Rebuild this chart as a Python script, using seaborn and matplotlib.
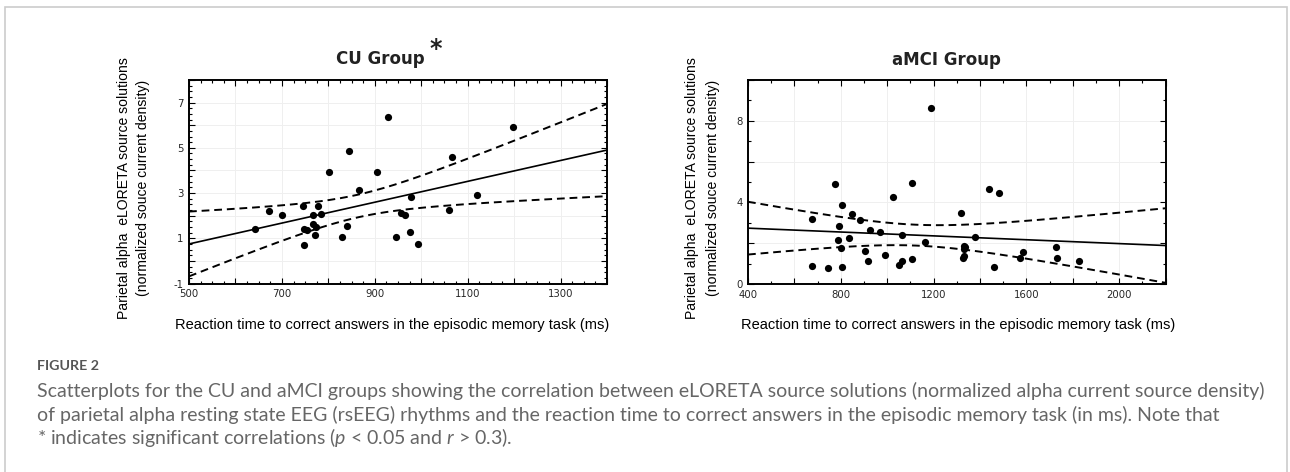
import numpy as np
import matplotlib
matplotlib.use("Agg")
import matplotlib.pyplot as plt
import seaborn as sns
from matplotlib.ticker import MultipleLocator, FuncFormatter
from matplotlib.patches import Rectangle

# ---------------- data ----------------
cu_rt = [641.8, 672, 700, 744.6, 747.4, 753, 747.4, 767.5, 777, 767.5,
         773, 770.4, 783.4, 800.6, 843.7, 839.4, 828.6, 866.6, 905.4, 929,
         946.4, 955.8, 965.8, 978, 975.9, 993, 1060, 1065.7, 1121, 1198.6]
cu_density = [1.43, 2.20, 2.05, 2.43, 1.43, 1.36, 0.71, 2.05, 2.42, 1.65,
              1.50, 1.14, 2.08, 3.91, 4.84, 1.54, 1.04, 3.12, 3.94, 6.35,
              1.04, 2.12, 2.02, 2.82, 1.28, 0.74, 2.23, 4.59, 2.92, 5.90]

amci_rt = [676, 676, 745, 775, 791, 788, 805, 800, 806, 835,
           849, 883, 904, 917, 925, 970, 990, 1023, 1050, 1066,
           1066, 1105, 1105, 1165, 1190, 1319, 1325, 1330, 1332, 1331,
           1334, 1379, 1437, 1461, 1483, 1573, 1586, 1727, 1731, 1825]
amci_density = [3.19, 0.87, 0.80, 4.90, 2.85, 2.16, 3.89, 1.76, 0.83, 2.24,
                3.42, 3.12, 1.60, 1.11, 2.65, 2.53, 1.40, 4.25, 0.91, 1.15,
                2.41, 4.94, 1.24, 2.04, 8.64, 3.50, 1.29, 1.37, 1.88, 1.70,
                1.83, 2.32, 4.66, 0.83, 4.45, 1.27, 1.55, 1.80, 1.27, 1.12]

panel_titles = ["CU Group", "aMCI Group"]
x_label = "Reaction time to correct answers in the episodic memory task (ms)"
y_label_1 = "Parietal alpha  eLORETA source solutions"
y_label_2 = "(normalized souce current density)"
caption_head = "FIGURE 2"
caption_lines = [
    "Scatterplots for the CU and aMCI groups showing the correlation between eLORETA source solutions (normalized alpha current source density)",
    "of parietal alpha resting state EEG (rsEEG) rhythms and the reaction time to correct answers in the episodic memory task (in ms). Note that",
    "* indicates significant correlations ($p$ < 0.05 and $r$ > 0.3).",
]

# ---------------- style ----------------
W, H = 1290, 472
sns.set_style("ticks")
plt.rcParams["font.family"] = ["Liberation Sans", "DejaVu Sans"]
plt.rcParams["mathtext.fontset"] = "custom"
plt.rcParams["mathtext.rm"] = "Lato"
plt.rcParams["mathtext.it"] = "Lato:italic"

fig = plt.figure(figsize=(W / 100, H / 100), dpi=100)
fig.patch.set_facecolor("white")


def px_rect(x0, y0, x1, y1):
    return [x0 / W, 1 - y1 / H, (x1 - x0) / W, (y1 - y0) / H]


def fx(x):
    return x / W


def fy(y):
    return 1 - y / H


ax1 = fig.add_axes(px_rect(189, 80, 607, 283.5))
ax2 = fig.add_axes(px_rect(748, 80, 1165.5, 284))


def fit_lines(x, y, xlim, tcrit):
    x = np.asarray(x, float)
    y = np.asarray(y, float)
    n = len(x)
    b, a = np.polyfit(x, y, 1)
    xs = np.linspace(xlim[0], xlim[1], 200)
    yhat = a + b * xs
    resid = y - (a + b * x)
    s = np.sqrt(np.sum(resid ** 2) / (n - 2))
    se = s * np.sqrt(1 / n + (xs - x.mean()) ** 2 / np.sum((x - x.mean()) ** 2))
    return xs, yhat, yhat - tcrit * se, yhat + tcrit * se


def draw_panel(ax, x, y, xlim, ylim, tcrit, xmaj, xmin, xlab_step, xlab_origin,
               ymaj, ymin, ylab_step, ylab_origin):
    xs, yhat, lo, hi = fit_lines(x, y, xlim, tcrit)
    sns.lineplot(x=xs, y=yhat, ax=ax, color="black", linewidth=1.2, zorder=2)
    sns.lineplot(x=xs, y=lo, ax=ax, color="black", linewidth=1.4,
                 linestyle=(0, (4, 2.5)), zorder=2)
    sns.lineplot(x=xs, y=hi, ax=ax, color="black", linewidth=1.4,
                 linestyle=(0, (4, 2.5)), zorder=2)
    sns.scatterplot(x=x, y=y, ax=ax, color="black", s=27, linewidth=0, zorder=3)
    ax.set_xlim(*xlim)
    ax.set_ylim(*ylim)
    ax.xaxis.set_major_locator(MultipleLocator(xmaj))
    ax.xaxis.set_minor_locator(MultipleLocator(xmin))
    ax.yaxis.set_major_locator(MultipleLocator(ymaj))
    ax.yaxis.set_minor_locator(MultipleLocator(ymin))

    def xf(v, pos):
        k = (v - xlab_origin) / xlab_step
        return f"{v:.0f}" if abs(k - round(k)) < 1e-6 else ""

    def yf(v, pos):
        k = (v - ylab_origin) / ylab_step
        return f"{v:.0f}" if abs(k - round(k)) < 1e-6 else ""

    ax.xaxis.set_major_formatter(FuncFormatter(xf))
    ax.yaxis.set_major_formatter(FuncFormatter(yf))
    ax.grid(True, which="major", color="#efefef", linewidth=0.7, zorder=0)
    ax.set_axisbelow(True)
    ax.tick_params(which="both", direction="in", top=True, right=True,
                   color="black", width=0.8)
    ax.tick_params(which="major", length=4, labelsize=7.3, pad=4,
                   labelfontfamily="DejaVu Sans")
    ax.tick_params(which="minor", length=2.5)
    for sp in ax.spines.values():
        sp.set_color("black")
        sp.set_linewidth(1.4)
    ax.set_xlabel("")
    ax.set_ylabel("")


draw_panel(ax1, cu_rt, cu_density, (500, 1400), (-1, 8), 2.048,
           100, 25, 200, 500, 1, 0.25, 2, -1)
draw_panel(ax2, amci_rt, amci_density, (400, 2200), (0, 10), 2.024,
           200, 100, 400, 400, 2, 1, 4, 0)

# titles
title_kw = dict(family="DejaVu Sans", fontsize=12, fontweight="bold",
                color="#222222", ha="center", va="center")
fig.text(fx(380), fy(59), panel_titles[0], **title_kw)
fig.text(fx(436), fy(49), "*", family="DejaVu Sans", fontsize=17,
         fontweight="bold", color="#222222", ha="center", va="center")
fig.text(fx(946), fy(60), panel_titles[1], **title_kw)

# axis labels
fig.text(fx(392), fy(325), x_label, fontsize=10.5, color="black",
         ha="center", va="center")
fig.text(fx(958), fy(325), x_label, fontsize=10.5, color="black",
         ha="center", va="center")
ylab_kw = dict(fontsize=10.1, color="black", ha="center", va="center",
               rotation=90)
for xc1, xc2 in [(124, 143), (692, 713)]:
    fig.text(fx(xc1), fy(188), y_label_1, **ylab_kw)
    fig.text(fx(xc2), fy(188), y_label_2, **ylab_kw)

# caption
cap_color = "#666666"
fig.text(fx(37), fy(370), caption_head, family="Lato", fontsize=10.3,
         fontweight="bold", color="#555555", ha="left", va="baseline")
for yb, line in zip([396.5, 421, 444], caption_lines):
    fig.text(fx(37), fy(yb), line, family="Lato", fontsize=14,
             color=cap_color, ha="left", va="baseline")

# frame around the figure
fig.patches.append(Rectangle((fx(5), fy(480)), fx(1282), (480 - 7) / H,
                             transform=fig.transFigure, fill=False,
                             edgecolor="#cccccc", linewidth=1.2))

fig.savefig("out.png", dpi=100, facecolor="white")
